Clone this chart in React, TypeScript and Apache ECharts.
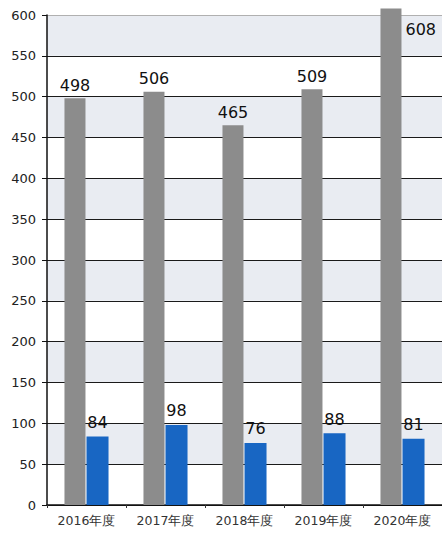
import React, { useEffect, useRef } from "react";
import * as echarts from "echarts";

const categories = ["2016年度", "2017年度", "2018年度", "2019年度", "2020年度"];
const grayValues = [498, 506, 465, 509, 608];
const blueValues = [84, 98, 76, 88, 81];
const yTicks = { min: 0, max: 600, interval: 50 };

export default function App() {
  const ref = useRef<HTMLDivElement>(null);
  useEffect(() => {
    if (!ref.current) return;
    const chart = echarts.init(ref.current, undefined, { renderer: "svg" });
    const splitColors = Array.from({ length: 13 }, (_, i) => (i === 12 ? "#b0b0b0" : "#1a1a1a"));
    const font = "DejaVu Sans";
    chart.setOption({
      animation: false,
      backgroundColor: "#ffffff",
      grid: { left: 47, right: -3, top: 15, bottom: 28 },
      xAxis: {
        type: "category",
        data: categories,
        axisLine: { lineStyle: { color: "#111", width: 1.5 } },
        axisTick: { show: true, length: 3, lineStyle: { color: "#333" } },
        axisLabel: { color: "#333", fontSize: 12.5, fontFamily: font, margin: 9 },
      },
      yAxis: {
        type: "value",
        min: yTicks.min,
        max: yTicks.max,
        interval: yTicks.interval,
        axisLine: { show: true, lineStyle: { color: "#111", width: 1.5 } },
        axisTick: { show: true, length: 5, lineStyle: { color: "#111" } },
        axisLabel: { color: "#222", fontSize: 13, fontFamily: font, margin: 11 },
        splitLine: { show: true, lineStyle: { color: splitColors, width: 1 } },
        splitArea: { show: true, areaStyle: { color: ["#ffffff", "#e9ecf2"] } },
      },
      series: [
        {
          type: "bar",
          data: grayValues.map((v, i) =>
            i === 4
              ? {
                  value: v,
                  label: { position: [25, 13], align: "left", verticalAlign: "top" },
                }
              : v
          ),
          barWidth: 21,
          barGap: "5%",
          clip: false,
          itemStyle: { color: "#8c8c8c" },
          label: {
            show: true,
            position: "top",
            distance: 5,
            color: "#111",
            fontSize: 16,
            fontFamily: font,
          },
        },
        {
          type: "bar",
          data: blueValues,
          barWidth: 22,
          clip: false,
          itemStyle: { color: "#1866c3" },
          label: {
            show: true,
            position: "top",
            distance: 6,
            color: "#111",
            fontSize: 16,
            fontFamily: font,
          },
        },
      ],
    });
    return () => chart.dispose();
  }, []);
  return (
    <div
      ref={ref}
      style={{ position: "fixed", left: 0, top: 0, width: 442, height: 533 }}
    />
  );
}
